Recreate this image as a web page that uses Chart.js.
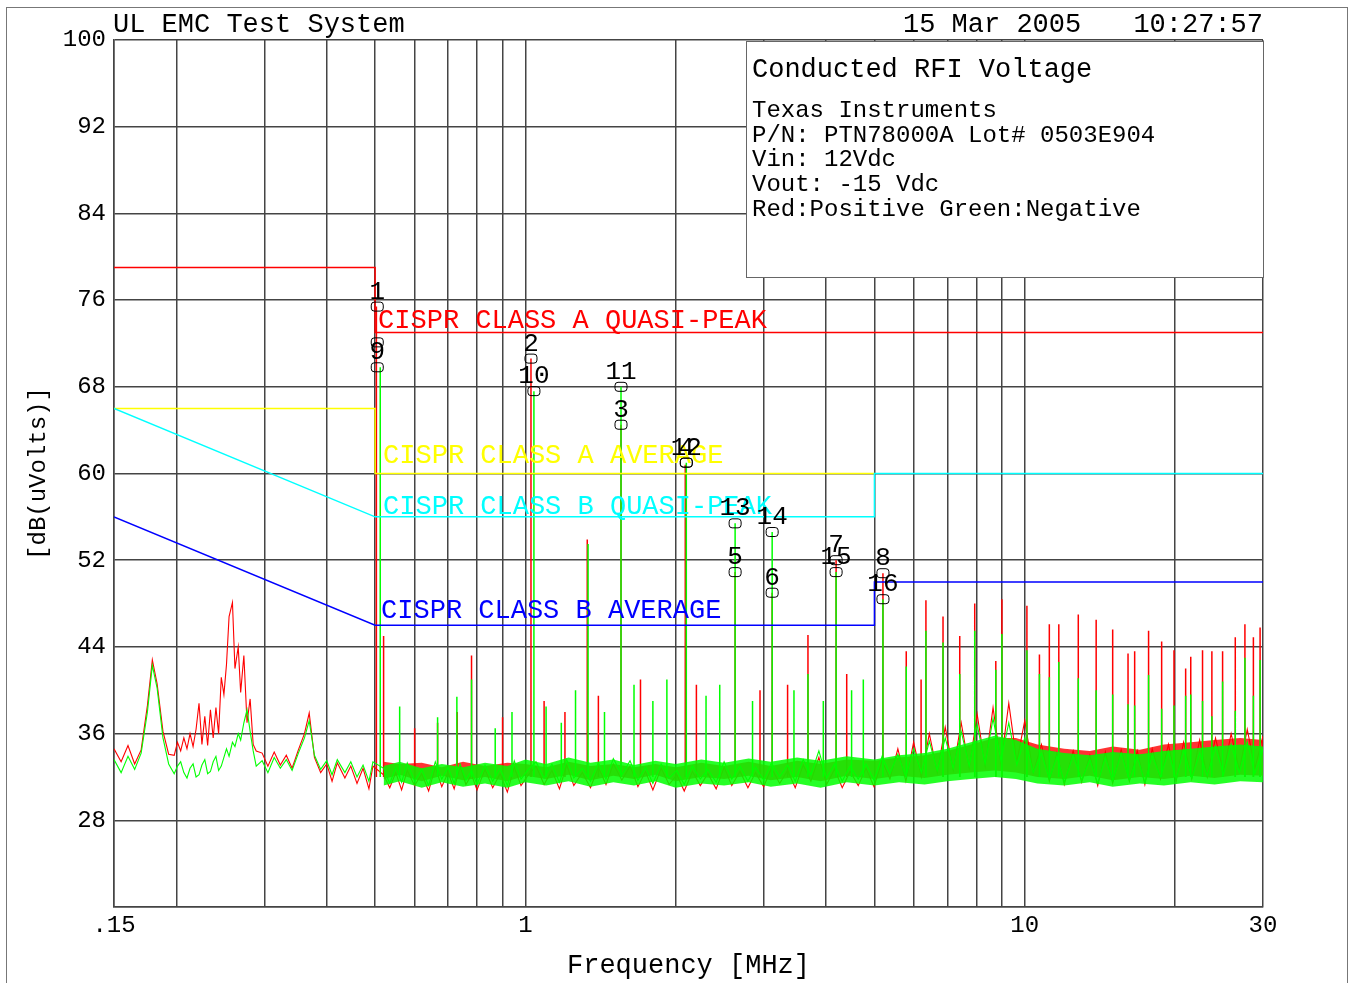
<!DOCTYPE html>
<html>
<head>
<meta charset="utf-8">
<title>Conducted RFI Voltage</title>
<script src="https://cdn.jsdelivr.net/npm/chart.js@4.4.1/dist/chart.umd.min.js"></script>
<style>
  html, body { margin: 0; padding: 0; background: #fff; overflow: hidden; }
  canvas { display: block; }
</style>
</head>
<body>
<canvas id="rfiChart" width="1350" height="983"></canvas>
<script>
// analyser sweep points (MHz)
const sweepMHz = [
  0.150, 0.155, 0.160, 0.165, 0.170, 0.175, 0.179, 0.183, 0.188, 0.193,
  0.198, 0.201, 0.204, 0.207, 0.210, 0.213, 0.216, 0.219, 0.222, 0.225,
  0.228, 0.231, 0.234, 0.237, 0.240, 0.243, 0.246, 0.249, 0.252, 0.255,
  0.259, 0.262, 0.266, 0.269, 0.273, 0.277, 0.281, 0.285, 0.289, 0.297,
  0.305, 0.314, 0.323, 0.332, 0.341, 0.351, 0.361, 0.369, 0.378, 0.389,
  0.400, 0.410, 0.420, 0.435, 0.447, 0.460, 0.473, 0.486, 0.495, 0.520,
  0.535, 0.550, 0.565, 0.580, 0.600, 0.620, 0.640, 0.660, 0.680, 0.700,
  0.720, 0.740, 0.760, 0.780, 0.800, 0.830, 0.860, 0.890, 0.920, 0.950,
  0.980, 1.01, 1.05, 1.09, 1.13, 1.17, 1.21, 1.25, 1.30, 1.35,
  1.40, 1.45, 1.50, 1.56, 1.62, 1.68, 1.74, 1.80, 1.87, 1.94,
  2.01, 2.08, 2.16, 2.24, 2.32, 2.41, 2.50, 2.59, 2.69, 2.79,
  2.89, 3.00, 3.11, 3.23, 3.35, 3.47, 3.60, 3.73, 3.87, 4.01,
  4.16, 4.31, 4.47, 4.64, 4.81, 4.99, 5.18, 5.37, 5.57, 5.78,
  5.99, 6.21, 6.44, 6.68, 6.93, 7.19, 7.46, 7.74, 8.03, 8.33,
  8.64, 8.96, 9.29, 9.64, 10.0, 10.4, 10.8, 11.2, 11.6, 12.0,
  12.5, 13.0, 13.5, 14.0, 14.5, 15.0, 15.6, 16.2, 16.8, 17.4,
  18.0, 18.7, 19.4, 20.1, 20.8, 21.6, 22.4, 23.2, 24.1, 25.0,
  25.9, 26.9, 27.9, 28.9, 30.0
];

// Red: positive line (dBuV)
const positiveDb = [
  34.6, 33.4, 34.9, 33.2, 34.5, 38.6, 42.8, 40.6, 36.2, 34.1,
  34.0, 35.2, 34.4, 35.6, 34.6, 36.0, 34.8, 36.4, 38.8, 35.0,
  37.6, 34.9, 38.2, 35.6, 38.4, 36.0, 41.2, 39.6, 42.4, 46.8,
  48.1, 42.0, 44.0, 39.8, 43.2, 37.0, 39.2, 35.0, 34.4, 34.2,
  33.0, 34.3, 33.1, 34.0, 32.8, 34.5, 36.0, 37.9, 33.8, 32.4,
  33.2, 31.6, 33.3, 31.9, 33.0, 31.4, 32.8, 30.9, 33.0, 32.2,
  31.0, 32.4, 30.8, 32.6, 31.2, 32.3, 30.7, 32.9, 31.1, 32.4,
  30.9, 33.0, 31.3, 32.2, 30.8, 32.7, 31.0, 32.3, 30.6, 32.9,
  31.2, 32.1, 33.0, 31.3, 32.6, 30.9, 33.1, 31.2, 32.4, 31.0,
  32.9, 31.3, 33.2, 31.7, 33.0, 31.1, 32.5, 30.8, 32.8, 31.3,
  32.2, 30.7, 32.5, 31.2, 32.3, 30.9, 32.9, 31.2, 32.5, 31.0,
  32.4, 31.1, 32.8, 31.4, 32.6, 31.0, 33.1, 31.6, 33.8, 31.3,
  32.7, 31.0, 32.5, 31.2, 32.8, 31.1, 33.5, 31.8, 34.6, 31.6,
  35.2, 32.0, 36.0, 32.4, 36.6, 32.6, 37.0, 32.8, 37.8, 33.0,
  38.4, 33.2, 38.8, 33.4, 37.2, 32.4, 35.0, 31.6, 34.2, 31.3,
  34.4, 31.5, 34.0, 31.2, 34.3, 31.4, 34.5, 31.6, 34.4, 31.3,
  34.6, 31.8, 35.0, 31.6, 35.2, 31.8, 35.4, 32.0, 35.6, 32.4,
  36.0, 32.6, 36.4, 32.8, 35.8
];

// Green: negative line (dBuV)
const negativeDb = [
  33.6, 32.4, 33.9, 32.7, 34.2, 38.0, 42.3, 40.2, 35.6, 33.2,
  32.3, 33.0, 33.4, 32.4, 31.9, 32.8, 33.2, 32.0, 32.2, 33.1,
  33.6, 32.3, 32.5, 33.4, 33.9, 32.6, 33.0, 33.8, 34.6, 33.9,
  35.2, 34.8, 36.0, 35.4, 37.0, 38.2, 36.2, 34.4, 33.0, 33.5,
  32.4, 33.8, 32.8, 33.6, 32.6, 34.2, 35.6, 37.2, 34.0, 32.7,
  33.5, 32.2, 33.6, 32.4, 33.4, 32.0, 33.1, 31.6, 33.4, 32.8,
  31.4, 32.9, 31.5, 33.3, 31.6, 32.7, 31.2, 33.4, 31.8, 32.9,
  31.4, 33.2, 31.7, 32.6, 31.3, 33.1, 31.6, 32.8, 31.2, 33.5,
  31.8, 32.6, 33.4, 31.9, 33.2, 31.5, 33.6, 31.9, 32.8, 31.6,
  33.3, 31.8, 33.7, 32.2, 33.5, 31.7, 32.9, 31.4, 33.2, 31.9,
  32.6, 31.3, 33.0, 31.8, 32.7, 31.5, 33.4, 31.8, 33.0, 31.6,
  32.9, 31.7, 33.3, 32.0, 33.1, 31.6, 33.6, 32.2, 34.4, 31.9,
  33.2, 31.6, 33.0, 31.8, 33.2, 31.7, 33.9, 32.3, 34.1, 32.0,
  34.6, 32.4, 35.3, 32.6, 35.6, 32.8, 36.2, 33.0, 36.8, 33.2,
  37.4, 33.5, 37.0, 33.1, 35.6, 32.4, 34.2, 31.8, 33.9, 31.5,
  34.0, 31.7, 33.6, 31.4, 33.8, 31.6, 34.2, 31.7, 33.9, 31.5,
  34.0, 32.0, 34.3, 31.8, 34.5, 31.9, 34.2, 32.1, 34.8, 32.2,
  35.0, 32.4, 35.2, 32.3, 34.6
];

// dense noise band above 0.5 MHz (low / high envelope, dBuV)
const bandMHz = [
  0.52, 0.56, 0.62, 0.68, 0.75, 0.83, 0.92, 1.0, 1.1, 1.22,
  1.35, 1.5, 1.65, 1.82, 2.0, 2.25, 2.5, 2.8, 3.1, 3.5,
  3.9, 4.4, 5.0, 5.6, 6.3, 7.0, 7.8, 8.7, 9.6, 10.6,
  12.0, 13.5, 15.0, 17.0, 19.0, 21.5, 24.0, 27.0, 30.0
];
const negativeBandLowDb = [
  31.2, 31.6, 31.0, 31.5, 31.1, 31.4, 31.0, 31.5, 31.2, 31.6,
  31.1, 31.5, 31.2, 31.6, 31.0, 31.4, 31.2, 31.5, 31.1, 31.4,
  31.0, 31.5, 31.2, 31.5, 31.3, 31.6, 31.8, 32.0, 31.8, 31.4,
  31.2, 31.5, 31.1, 31.4, 31.2, 31.5, 31.3, 31.6, 31.5
];
const negativeBandHighDb = [
  33.0, 33.4, 32.8, 33.2, 32.9, 33.3, 33.0, 33.6, 33.2, 33.8,
  33.3, 33.6, 33.1, 33.5, 33.2, 33.6, 33.3, 33.7, 33.4, 33.8,
  33.5, 33.9, 33.6, 34.0, 34.2, 34.6, 35.2, 35.8, 35.4, 34.6,
  34.2, 34.0, 34.3, 34.1, 34.4, 34.6, 34.8, 35.0, 34.8
];
const positiveBandLowDb = [
  31.8, 32.2, 31.6, 32.1, 31.7, 32.0, 31.6, 32.1, 31.8, 32.2,
  31.7, 32.1, 31.8, 32.2, 31.6, 32.0, 31.8, 32.1, 31.7, 32.0,
  31.6, 32.1, 31.8, 32.1, 31.9, 32.2, 32.4, 32.6, 32.4, 32.0,
  31.8, 32.1, 31.7, 32.0, 31.8, 32.1, 31.9, 32.2, 32.1
];
const positiveBandHighDb = [
  33.4, 33.2, 33.3, 32.9, 33.4, 33.0, 33.3, 33.2, 32.9, 33.4,
  33.0, 33.2, 32.9, 33.2, 32.9, 33.3, 33.0, 33.4, 33.0, 33.5,
  33.2, 33.6, 33.5, 33.8, 34.0, 34.4, 35.0, 35.6, 35.6, 35.0,
  34.6, 34.4, 34.8, 34.5, 35.0, 35.2, 35.4, 35.6, 35.4
];

// narrow emission lines rising out of the noise floor
const spikeBaseDb = 32;
const positiveSpikeMHz = [
  0.503, 0.52, 0.60, 0.667, 0.73, 0.78, 0.90, 1.026, 1.09, 1.20,
  1.33, 1.40, 1.554, 1.70, 2.09, 2.20, 2.63, 2.95, 3.12, 3.35,
  3.68, 4.19, 4.40, 5.20, 5.79, 6.20, 6.34, 6.86, 7.41, 7.94,
  8.75, 9.0, 10.1, 10.7, 11.2, 11.7, 12.8, 13.9, 15.0, 16.1,
  16.6, 17.7, 18.8, 19.9, 21.0, 21.5, 22.7, 23.7, 24.9, 26.4,
  27.6, 28.7, 29.6
];
const positiveSpikeDb = [
  75.4, 45.0, 36.5, 37.0, 38.0, 43.2, 37.5, 70.6, 39.0, 38.0,
  53.9, 39.5, 64.5, 41.0, 60.8, 40.5, 50.9, 40.0, 49.0, 40.5,
  45.1, 52.0, 41.5, 50.8, 43.6, 41.0, 48.3, 46.8, 45.0, 48.0,
  42.7, 48.4, 47.8, 43.3, 46.1, 46.1, 47.0, 46.5, 45.6, 43.4,
  43.6, 45.5, 44.5, 43.7, 42.0, 43.1, 43.7, 43.6, 43.6, 44.9,
  46.1, 44.9, 45.8
];
const negativeSpikeMHz = [
  0.512, 0.56, 0.667, 0.729, 0.78, 0.87, 0.94, 1.04, 1.10, 1.18,
  1.26, 1.335, 1.44, 1.554, 1.65, 1.80, 1.92, 2.10, 2.30, 2.45,
  2.63, 2.85, 3.12, 3.45, 3.68, 3.95, 4.19, 4.50, 4.75, 5.20,
  5.79, 6.34, 6.86, 7.41, 7.94, 8.75, 9.0, 10.1, 10.7, 11.2,
  11.7, 12.8, 13.9, 15.0, 16.1, 16.6, 17.7, 18.8, 19.9, 21.0,
  21.5, 22.7, 23.7, 24.9, 26.4, 27.6, 28.7, 29.6
];
const negativeSpikeDb = [
  69.8, 38.5, 37.5, 39.4, 41.0, 36.5, 38.0, 67.6, 38.5, 37.0,
  40.0, 53.5, 38.0, 68.0, 40.5, 39.0, 41.0, 61.0, 39.5, 40.5,
  55.4, 39.0, 54.6, 40.0, 41.5, 39.0, 50.9, 40.0, 41.0, 48.4,
  42.2, 45.5, 44.4, 41.5, 45.5, 41.9, 45.2, 43.7, 41.5, 41.2,
  42.6, 41.1, 40.0, 39.6, 38.7, 38.6, 41.4, 38.3, 38.6, 39.5,
  39.6, 39.0, 37.6, 40.8, 38.1, 43.0, 39.5, 42.8
];

// CISPR 22 limit lines
const classAQpMHz = [0.15, 0.5, 0.5, 30];
const classAQpDb = [79, 79, 73, 73];
const classAAvgMHz = [0.15, 0.5, 0.5, 5];   // continues at 60 under the class B QP line
const classAAvgDb = [66, 66, 60, 60];
const classBQpMHz = [0.15, 0.5, 5, 5, 30];
const classBQpDb = [66, 56, 56, 60, 60];
const classBAvgMHz = [0.15, 0.5, 5, 5, 30];
const classBAvgDb = [56, 46, 46, 50, 50];

// peak markers
const markerMHz = [0.505, 0.505, 0.505, 1.026, 1.04, 1.554, 1.554, 2.10, 2.10, 2.63, 2.63, 3.12, 3.12, 4.19, 4.19, 5.20, 5.20];
const markerDb = [75.4, 72.1, 69.8, 70.6, 67.6, 68.0, 64.5, 61.0, 61.0, 55.4, 50.9, 54.6, 49.0, 52.0, 50.9, 50.8, 48.4];
const markerLabels = ['1', '', '9', '2', '10', '11', '3', '12', '4', '13', '5', '14', '6', '7', '15', '8', '16'];

// axes
const gridMHz = [0.15, 0.2, 0.3, 0.4, 0.5, 0.6, 0.7, 0.8, 0.9, 1, 2, 3, 4, 5, 6, 7, 8, 9, 10, 20, 30];
const xLabelMHz = [0.15, 1, 10, 30];
const xLabelText = ['.15', '1', '10', '30'];

const infoLines = [
  'Texas Instruments',
  'P/N: PTN78000A Lot# 0503E904',
  'Vin: 12Vdc',
  'Vout: -15 Vdc',
  'Red:Positive Green:Negative'
];

const FONT = '"Liberation Mono", "DejaVu Sans Mono", monospace';

const toPoints = (xs, ys) => xs.map((x, i) => ({ x: x, y: ys[i] }));
const toSpikes = (xs, ys) => xs.flatMap((x, i) => [
  { x: x, y: spikeBaseDb }, { x: x, y: ys[i] }, { x: x, y: null }
]);

const limitLabels = [
  { text: 'CISPR CLASS A QUASI-PEAK', color: '#ff0000', mhz: 0.5, db: 73, dx: 3, dy: -5 },
  { text: 'CISPR CLASS A AVERAGE', color: '#ffff00', mhz: 0.5, db: 60, dx: 8, dy: -11 },
  { text: 'CISPR CLASS B QUASI-PEAK', color: '#00ffff', mhz: 0.5, db: 56, dx: 8, dy: -3 },
  { text: 'CISPR CLASS B AVERAGE', color: '#0000ff', mhz: 0.5, db: 46, dx: 6, dy: -7 }
];

const plotText = {
  id: 'plotText',
  beforeDraw(chart) {
    const ctx = chart.ctx;
    ctx.save();
    ctx.fillStyle = '#fff';
    ctx.fillRect(0, 0, chart.width, chart.height);
    ctx.strokeStyle = '#777';
    ctx.lineWidth = 1;
    ctx.strokeRect(6.5, 7.5, 1341, 1000);
    ctx.restore();
  },
  afterDatasetsDraw(chart) {
    const ctx = chart.ctx;
    const xs = chart.scales.x;
    const ys = chart.scales.y;
    ctx.save();

    // info box
    ctx.fillStyle = '#fff';
    ctx.fillRect(746, 41, 517, 236);
    ctx.strokeStyle = '#666';
    ctx.lineWidth = 1;
    ctx.strokeRect(746.5, 41.5, 517, 236);
    ctx.fillStyle = '#000';
    ctx.textAlign = 'left';
    ctx.textBaseline = 'alphabetic';
    ctx.font = '27px ' + FONT;
    ctx.fillText('Conducted RFI Voltage', 752, 77);
    ctx.font = '24px ' + FONT;
    infoLines.forEach((line, i) => ctx.fillText(line, 752, 117 + i * 24.7));

    // limit line captions
    ctx.font = '27px ' + FONT;
    limitLabels.forEach(l => {
      ctx.fillStyle = l.color;
      ctx.fillText(l.text, xs.getPixelForValue(l.mhz) + l.dx, ys.getPixelForValue(l.db) + l.dy);
    });

    // markers
    ctx.strokeStyle = '#000';
    ctx.fillStyle = '#000';
    ctx.lineWidth = 1;
    ctx.textAlign = 'center';
    ctx.font = '26px ' + FONT;
    markerMHz.forEach((f, i) => {
      const x = xs.getPixelForValue(f);
      const y = ys.getPixelForValue(markerDb[i]);
      ctx.beginPath();
      ctx.roundRect(x - 6, y - 4.5, 12, 9, 3);
      ctx.stroke();
      if (markerLabels[i]) ctx.fillText(markerLabels[i], x, y - 8);
    });
    ctx.restore();
  },
  afterDraw(chart) {
    const ctx = chart.ctx;
    ctx.save();
    ctx.fillStyle = '#000';
    ctx.textBaseline = 'alphabetic';
    ctx.font = '27px ' + FONT;
    ctx.textAlign = 'left';
    ctx.fillText('UL EMC Test System', 113, 32);
    ctx.fillText('15 Mar 2005', 903, 32);
    ctx.textAlign = 'right';
    ctx.fillText('10:27:57', 1263, 32);
    ctx.restore();
  }
};

const lineSet = (data, color, width, order) => ({
  data: data,
  borderColor: color,
  borderWidth: width,
  pointRadius: 0,
  tension: 0,
  fill: false,
  spanGaps: false,
  order: order
});

const bandSet = (data, fillColor, order) => ({
  data: data,
  borderWidth: 0,
  borderColor: 'rgba(0,0,0,0)',
  backgroundColor: fillColor,
  pointRadius: 0,
  tension: 0,
  fill: '-1',
  order: order
});

new Chart(document.getElementById('rfiChart'), {
  type: 'line',
  data: {
    datasets: [
      lineSet(toPoints(classAQpMHz, classAQpDb), '#ff0000', 1.5, 0),
      lineSet(toPoints(classBAvgMHz, classBAvgDb), '#0000ff', 1.5, 1),
      lineSet(toPoints(classBQpMHz, classBQpDb), '#00ffff', 1.5, 2),
      lineSet(toPoints(classAAvgMHz, classAAvgDb), '#ffff00', 1.5, 3),
      lineSet(toSpikes(negativeSpikeMHz, negativeSpikeDb), '#00ff00', 1.5, 5),
      lineSet(toPoints(sweepMHz, negativeDb), '#00ff00', 1.1, 6),
      lineSet(toPoints(bandMHz, negativeBandLowDb), 'rgba(0,0,0,0)', 0, 7),
      bandSet(toPoints(bandMHz, negativeBandHighDb), 'rgba(0,255,0,0.85)', 7),
      lineSet(toSpikes(positiveSpikeMHz, positiveSpikeDb), '#ff0000', 1.5, 8),
      lineSet(toPoints(sweepMHz, positiveDb), '#ff0000', 1.1, 9),
      lineSet(toPoints(bandMHz, positiveBandLowDb), 'rgba(0,0,0,0)', 0, 10),
      bandSet(toPoints(bandMHz, positiveBandHighDb), 'rgba(255,0,0,0.8)', 10)
    ]
  },
  options: {
    responsive: false,
    animation: false,
    events: [],
    layout: { padding: { top: 40, right: 87, left: 0, bottom: 0 } },
    plugins: {
      legend: { display: false },
      tooltip: { enabled: false }
    },
    scales: {
      x: {
        type: 'logarithmic',
        min: 0.15,
        max: 30,
        afterBuildTicks: scale => { scale.ticks = gridMHz.map(v => ({ value: v })); },
        afterFit: scale => { scale.height = 76; },
        grid: { color: '#444', lineWidth: 1.5, drawTicks: false },
        border: { color: '#444', width: 1.5 },
        ticks: {
          autoSkip: false,
          maxRotation: 0,
          padding: 4,
          color: '#000',
          font: { family: FONT, size: 24 },
          callback: v => {
            const i = xLabelMHz.indexOf(v);
            return i < 0 ? '' : xLabelText[i];
          }
        },
        title: {
          display: true,
          text: 'Frequency [MHz]',
          color: '#000',
          font: { family: FONT, size: 27 },
          padding: { top: 0, bottom: 1 }
        }
      },
      y: {
        min: 20,
        max: 100,
        afterFit: scale => { scale.width = 114; },
        grid: { color: '#444', lineWidth: 1.5, drawTicks: false },
        border: { color: '#444', width: 1.5 },
        ticks: {
          stepSize: 8,
          padding: 8,
          color: '#000',
          font: { family: FONT, size: 24 },
          callback: v => (v === 20 ? '' : v)
        },
        title: {
          display: true,
          text: '[dB(uVolts)]',
          color: '#000',
          font: { family: FONT, size: 24 },
          padding: { top: 24, bottom: 0 }
        }
      }
    }
  },
  plugins: [plotText]
});
</script>
</body>
</html>
